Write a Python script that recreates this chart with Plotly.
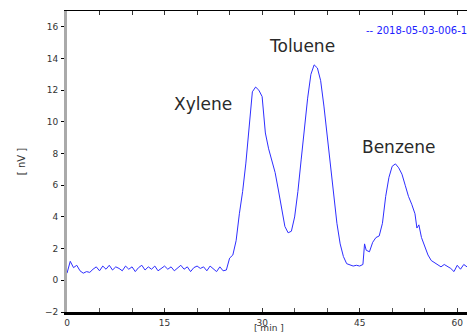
import plotly.graph_objects as go

time_min = [0.0, 0.5, 1.0, 1.5, 2.0, 2.5, 3.0, 3.5, 4.0, 4.5, 5.0, 5.5, 6.0, 6.5, 7.0, 7.5,
            8.0, 8.5, 9.0, 9.5, 10.0, 10.5, 11.0, 11.5, 12.0, 12.5, 13.0, 13.5, 14.0, 14.5,
            15.0, 15.5, 16.0, 16.5, 17.0, 17.5, 18.0, 18.5, 19.0, 19.5, 20.0, 20.5, 21.0,
            21.5, 22.0, 22.5, 23.0, 23.5, 24.0, 24.5, 25.0, 25.5, 26.0, 26.5, 27.0, 27.5,
            28.0, 28.5, 29.0, 29.5, 30.0, 30.5, 31.0, 31.5, 32.0, 32.5, 33.0, 33.5, 34.0,
            34.5, 35.0, 35.5, 36.0, 36.5, 37.0, 37.5, 38.0, 38.5, 39.0, 39.5, 40.0, 40.5,
            41.0, 41.5, 42.0, 42.5, 43.0, 43.5, 44.0, 44.5, 45.0, 45.5, 45.75, 46.0, 46.5,
            47.0, 47.5, 48.0, 48.5, 49.0, 49.5, 50.0, 50.5, 51.0, 51.5, 52.0, 52.5, 53.0,
            53.5, 53.8, 54.1, 54.5, 55.0, 55.5, 56.0, 56.5, 57.0, 57.5, 58.0, 58.5, 59.0,
            59.5, 60.0, 60.5, 61.0, 61.5]
signal_nv = [0.45, 1.2, 0.8, 0.95, 0.6, 0.45, 0.55, 0.5, 0.7, 0.85, 0.6, 0.9, 0.7, 0.95, 0.65, 0.85,
             0.75, 0.6, 0.9, 0.7, 0.85, 0.55, 0.8, 0.95, 0.65, 0.85, 0.7, 0.9, 0.6, 0.75,
             0.9, 0.7, 0.85, 0.6, 0.8, 0.95, 0.7, 0.85, 0.55, 0.8, 0.9, 0.75, 0.85,
             0.6, 0.9, 0.75, 0.55, 0.85, 0.6, 0.65, 1.4, 1.6, 2.5, 4.2, 5.6, 7.4,
             9.8, 11.9, 12.2, 12.0, 11.6, 9.3, 8.3, 7.5, 6.8, 5.7, 4.5, 3.4, 3.0,
             3.1, 4.0, 5.6, 7.6, 9.6, 11.5, 13.0, 13.6, 13.4, 12.6, 11.0, 9.2, 7.2,
             5.3, 3.6, 2.3, 1.5, 1.05, 0.95, 0.9, 0.95, 0.9, 1.0, 2.3, 1.9, 1.8,
             2.4, 2.7, 2.8, 3.6, 5.3, 6.5, 7.2, 7.35, 7.1, 6.7, 6.0, 5.3, 4.8,
             4.2, 3.3, 3.5, 2.7, 2.1, 1.6, 1.25, 1.1, 1.0, 0.85, 1.0, 0.9, 0.75,
             0.55, 0.95, 0.7, 1.0, 0.85]

peak_names = ["Xylene", "Toluene", "Benzene"]
peak_label_x = [20.9, 36.2, 51.1]
peak_label_y = [11.1, 14.8, 8.4]

x_tick_vals = [0, 15, 30, 45, 60]
y_tick_vals = [-2, 0, 2, 4, 6, 8, 10, 12, 14, 16]
legend_text = "-- 2018-05-03-006-1"

fig = go.Figure()
fig.add_trace(go.Scatter(x=time_min, y=signal_nv, mode="lines",
                         line=dict(color="#2e2eff", width=1), showlegend=False))
# invisible trace on top axis for mirrored ticks
fig.add_trace(go.Scatter(x=[0], y=[0], xaxis="x2", mode="markers",
                         marker=dict(opacity=0), showlegend=False, hoverinfo="skip"))

for name, lx, ly in zip(peak_names, peak_label_x, peak_label_y):
    fig.add_annotation(x=lx, y=ly, text=name, showarrow=False,
                       font=dict(family="DejaVu Sans", size=17, color="#2a2a2a"))

fig.add_annotation(x=1.005, y=0.934, xref="paper", yref="paper", xanchor="right", yanchor="middle",
                   text=legend_text, showarrow=False,
                   font=dict(family="DejaVu Sans", size=10, color="#2020ff"))

# x-axis title at the very bottom of the page, below the tick labels
fig.add_annotation(x=0.505, y=-0.073, xref="paper", yref="paper", xanchor="center", yanchor="bottom",
                   text="[ min ]", showarrow=False, borderpad=0,
                   font=dict(family="DejaVu Sans", size=9, color="#333"))

tick_font = dict(family="DejaVu Sans", size=9, color="#333333")
fig.update_layout(
    width=467, height=334,
    margin=dict(l=67, r=0, t=11, b=22, autoexpand=False),
    paper_bgcolor="white", plot_bgcolor="white",
    xaxis=dict(range=[0, 61.5], tickvals=x_tick_vals, ticktext=[str(v) for v in x_tick_vals],
               ticks="inside", ticklen=4, tickcolor="#333", showgrid=False, zeroline=False,
               showline=True, linecolor="black", linewidth=3, automargin=False,
               minor=dict(dtick=5, ticks="inside", ticklen=4, tickcolor="#555"),
               tickfont=tick_font),
    xaxis2=dict(range=[0, 61.5], overlaying="x", side="top", showline=True, linecolor="black",
                linewidth=1, ticks="inside", ticklen=4, tickcolor="#333", dtick=5,
                showticklabels=False, showgrid=False, zeroline=False, automargin=False),
    yaxis=dict(range=[-2, 17], tickvals=y_tick_vals, ticks="outside", ticklen=3,
               tickcolor="black", showgrid=False, zeroline=False, showline=True,
               linecolor="#aaaaaa", linewidth=3, tickfont=tick_font, ticklabelstandoff=1,
               automargin=False,
               title=dict(text="[ nV ]", font=dict(family="DejaVu Sans", size=10, color="#333"),
                          standoff=18)),
)

fig.write_html("out.html")
